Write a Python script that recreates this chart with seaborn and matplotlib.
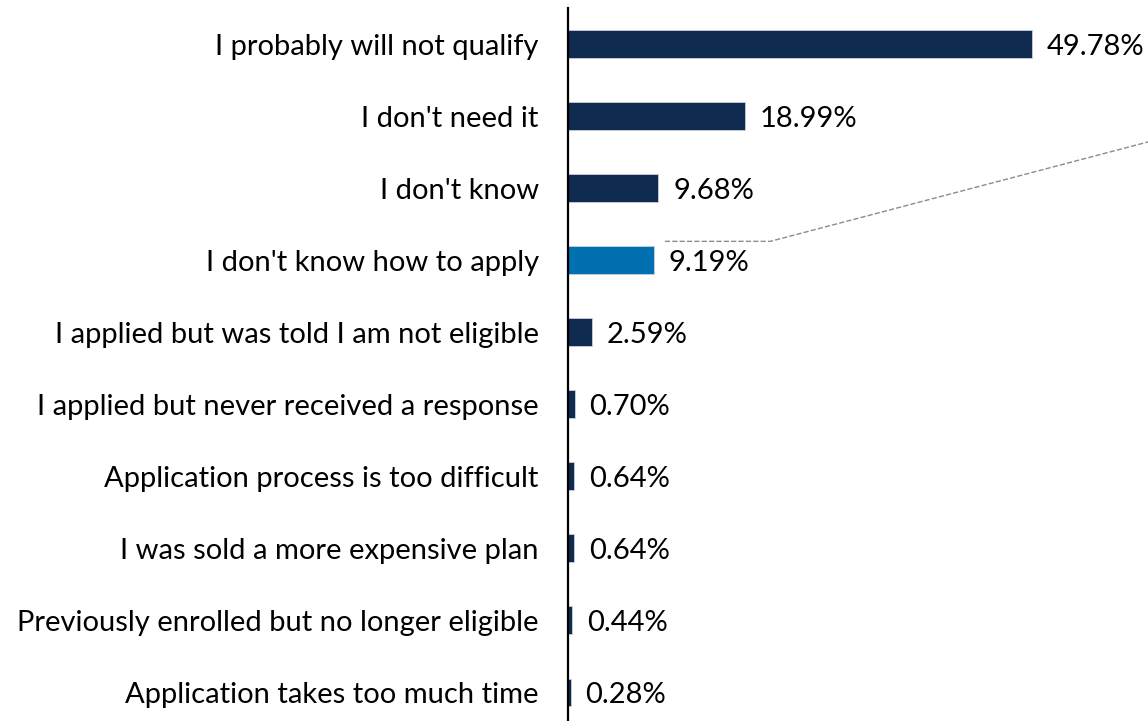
import seaborn as sns
import matplotlib.pyplot as plt
import pandas as pd

reasons = ["I probably will not qualify", "I don't need it", "I don't know",
           "I don't know how to apply", "I applied but was told I am not eligible",
           "I applied but never received a response", "Application process is too difficult",
           "I was sold a more expensive plan", "Previously enrolled but no longer eligible",
           "Application takes too much time"]
shares = [49.78, 18.99, 9.68, 9.19, 2.59, 0.70, 0.64, 0.64, 0.44, 0.28]
highlight = "I don't know how to apply"

navy = "#0F2B50"
blue = "#0070B0"

df = pd.DataFrame({"reason": reasons, "share": shares})
df["group"] = ["hi" if r == highlight else "base" for r in reasons]

sns.set_style("white")
plt.rcParams['font.family'] = ['Lato', 'DejaVu Sans']

fig = plt.figure(figsize=(11.48, 7.21), dpi=100)
ax = fig.add_axes([568 / 1148, 0, 580 / 1148, 713 / 721])

sns.barplot(data=df, x="share", y="reason", hue="group", palette={"base": navy, "hi": blue},
            saturation=1, width=0.38, edgecolor="#C8D0DC", linewidth=0.6, legend=False,
            ax=ax, orient="h")

ax.set_xlim(0, 62.2)
ax.set_ylim(9.40, -0.5)
ax.set_xlabel("")
ax.set_ylabel("")
ax.set_xticks([])
ax.tick_params(axis="y", length=0, pad=21, labelsize=21, labelcolor="black")
for s in ["top", "right", "bottom"]:
    ax.spines[s].set_visible(False)
ax.spines["left"].set_linewidth(1.6)
ax.spines["left"].set_color("black")

for i, v in enumerate(shares):
    ax.text(v + 1.6, i + 0.04, f"{v:.2f}%", va="center", ha="left", fontsize=21, color="black")

# dashed callout line from highlighted bar
hi = reasons.index(highlight)
ax.plot([shares[hi] + 1.2, 21.7, 62.2], [hi - 0.26, hi - 0.26, hi - 1.64],
        ls="--", color="#8C8C8C", lw=1.0, clip_on=False)

fig.savefig("out.png", dpi=100)
